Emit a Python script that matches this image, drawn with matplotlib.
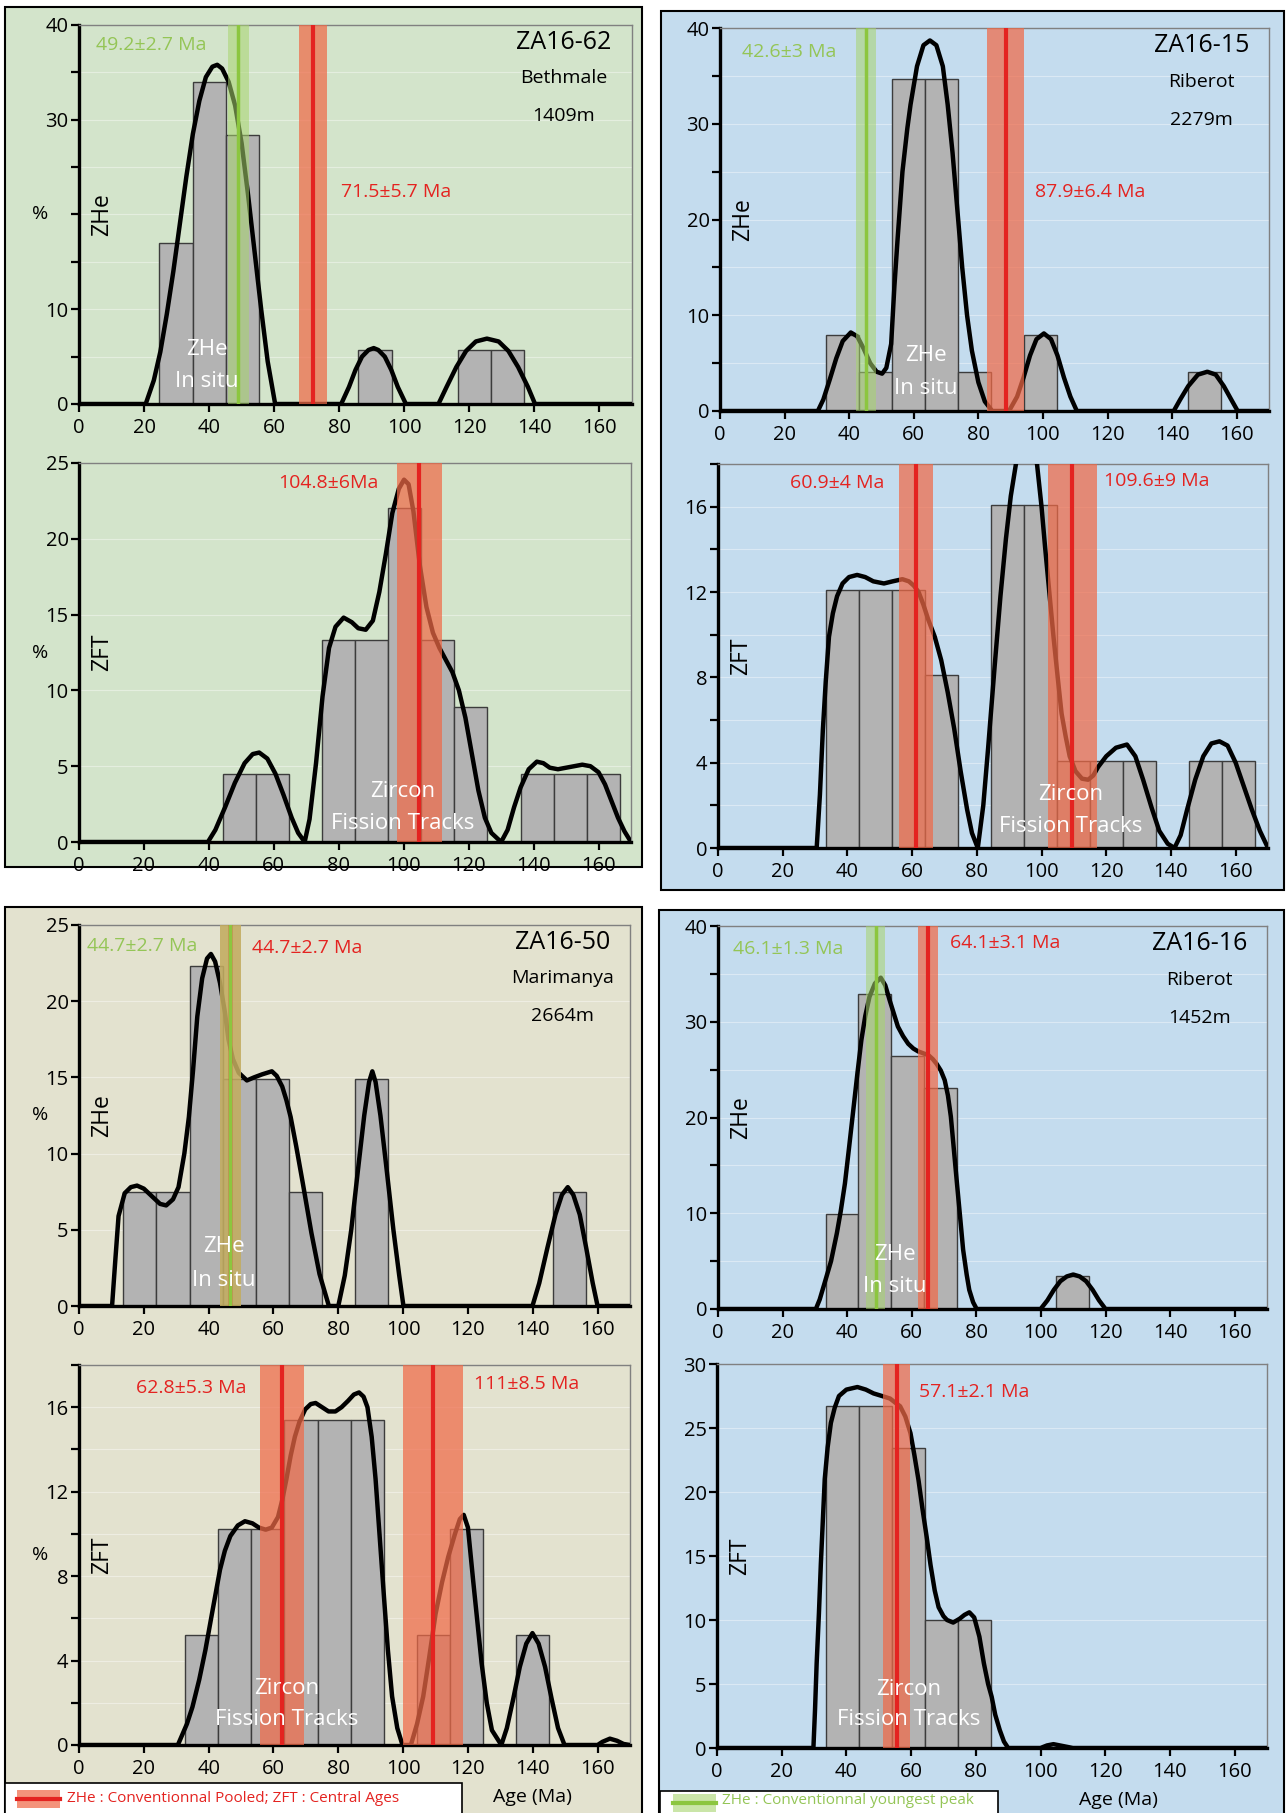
import numpy as np
import matplotlib
matplotlib.use("Agg")
import matplotlib.pyplot as plt
from matplotlib.patches import Rectangle
from matplotlib.lines import Line2D
from matplotlib.ticker import MultipleLocator, FuncFormatter

plt.rcParams['font.family'] = ['Open Sans', 'DejaVu Sans']

W, H = 1288, 1813
BIN_W = 10.2

# ---------------- ZA16-62, Bethmale 1409m ----------------
tl_zhe_start = 24.7
tl_zhe_pct = [17.0, 34.0, 28.4, 0, 0, 0, 5.7, 0, 0, 5.7, 5.7]
tl_zhe_curve = [(0, 0), (20.5, 0), (23, 2.5), (25, 5.5), (27, 9.5), (29, 14), (31, 19), (33, 24),
                (35, 28.5), (37, 32), (39, 34.5), (41, 35.6), (42.5, 35.8), (44, 35.4), (46, 34),
                (48, 31.5), (50, 27.5), (52, 22), (54, 16), (56, 10), (58, 4.5), (60.3, 0),
                (80.6, 0), (83, 1.8), (85, 3.6), (87, 5), (89, 5.7), (90.6, 5.9), (92, 5.7), (94, 5),
                (96, 3.6), (98, 1.8), (100.5, 0), (110.5, 0), (113, 1.8), (116, 3.9), (119, 5.6),
                (122, 6.6), (125.4, 6.9), (129, 6.6), (132, 5.6), (135, 3.9), (138, 1.8), (140.2, 0),
                (170, 0)]
tl_zft_start = 44.2
tl_zft_pct = [4.5, 4.5, 0, 13.3, 13.3, 22.0, 13.3, 8.9, 0, 4.5, 4.5, 4.5]
tl_zft_curve = [(0, 0), (39.7, 0), (42, 0.8), (45, 2.3), (48, 3.9), (51, 5.2), (53.5, 5.8), (55.5, 5.9),
                (58, 5.5), (60.5, 4.5), (63, 3.1), (65.5, 1.6), (67.5, 0.6), (69.5, 0), (71, 1.5),
                (73, 5.2), (75, 9.6), (77, 12.8), (79, 14.2), (81.5, 14.8), (84, 14.5), (86, 14.1),
                (88.3, 14.0), (90.5, 14.6), (92.5, 16.5), (94.5, 19), (96.5, 21.7), (98.5, 23.3),
                (100.1, 23.9), (101.5, 23.6), (103, 21.8), (105, 18.2), (107, 15.5), (109, 13.8),
                (111, 12.8), (113, 12.0), (115, 11.2), (117, 10.0), (119, 8.2), (121, 5.8), (123, 3.4),
                (125, 1.6), (127, 0.6), (130, 0), (132, 0.8), (134, 2.3), (136, 3.6), (138.5, 4.8),
                (141, 5.3), (143, 5.2), (145, 4.9), (147.5, 4.8), (150, 4.9), (152.5, 5.0), (155, 5.1),
                (157.5, 5.0), (160, 4.6), (162, 3.8), (164, 2.7), (166, 1.6), (168, 0.7), (170, 0)]

# ---------------- ZA16-15, Riberot 2279m ----------------
tr_zhe_start = 32.8
tr_zhe_pct = [7.9, 4.1, 34.7, 34.7, 4.1, 0, 7.9, 0, 0, 0, 0, 4.1]
tr_zhe_curve = [(0, 0), (30.3, 0), (32, 1.2), (34, 3.3), (36, 5.5), (38, 7.3), (40.5, 8.2), (42.5, 7.8),
                (44.5, 6.5), (46.5, 5.0), (48.5, 4.1), (50.2, 3.9), (51.5, 4.5), (53, 7), (54, 13),
                (55, 18), (56.5, 25), (58, 29.5), (59, 32), (61, 36), (63, 38.2), (65, 38.7),
                (67, 38.2), (69, 36), (70.5, 32), (72, 27), (73.5, 21), (75, 15), (76.5, 10),
                (78, 6.3), (80, 3), (82, 1), (84.3, 0), (89.5, 0), (92, 1.5), (94, 3.5), (96, 5.8),
                (98, 7.5), (100.3, 8.1), (102.5, 7.5), (104.5, 5.8), (106.5, 3.5), (108.5, 1.5),
                (110.5, 0), (140.5, 0), (142.5, 1.2), (145, 2.6), (148, 3.8), (150.9, 4.1),
                (153.5, 3.8), (156, 2.6), (158.3, 1.2), (160.3, 0), (170, 0)]
tr_zft_start = 33.3
tr_zft_pct = [12.1, 12.1, 12.1, 8.1, 0, 16.1, 16.1, 4.07, 4.07, 4.07, 0, 4.07, 4.07]
tr_zft_curve = [(0, 0), (30.5, 0), (31.5, 2.5), (32.4, 5.5), (33.3, 7.8), (34.3, 9.9), (35.5, 11),
                (36.8, 11.8), (38.5, 12.4), (40.5, 12.7), (43, 12.8), (45.5, 12.7), (48, 12.5),
                (51.3, 12.4), (54, 12.5), (57, 12.6), (59, 12.5), (60.5, 12.3), (62, 12.0), (63.5, 11.4),
                (65, 10.7), (67, 9.9), (69, 8.8), (71, 7.3), (73, 5.6), (75, 3.6), (77, 1.8), (78.5, 0.7),
                (80.3, 0), (82, 2), (83.5, 4.7), (85.5, 8.5), (87.3, 11.8), (89, 14.5), (90.5, 16.5),
                (92.3, 18.2), (94, 19.6), (95.5, 20.0), (97, 19.5), (98.6, 18.0), (100, 16.0),
                (101.1, 14.1), (102.4, 12.0), (103.7, 9.9), (105, 8.0), (106.2, 6.3), (107.5, 5.2),
                (108.7, 4.3), (110.5, 3.6), (112.5, 3.25), (114.4, 3.2), (116, 3.4), (117.5, 3.8),
                (120, 4.3), (123, 4.7), (126.4, 4.85), (129, 4.3), (131.4, 3.2), (134, 1.9),
                (136.4, 0.8), (139, 0.2), (141.1, 0), (143, 0.6), (145, 1.8), (147.5, 3.2), (150, 4.3),
                (152.5, 4.9), (155, 5.0), (157.5, 4.8), (160, 4.0), (162.5, 2.9), (165, 1.8),
                (167.5, 0.8), (170, 0)]

# ---------------- ZA16-50, Marimanya 2664m ----------------
bl_zhe_start = 13.7
bl_zhe_pct = [7.5, 7.5, 22.3, 14.9, 14.9, 7.5, 0, 14.9, 0, 0, 0, 0, 0, 7.5]
bl_zhe_curve = [(0, 0), (10.2, 0), (11.2, 3), (12.2, 5.9), (14.1, 7.4), (16, 7.8), (17.9, 7.9), (20, 7.7),
                (22.5, 7.2), (25, 6.7), (26.9, 6.6), (29, 7.0), (30.7, 7.8), (32.5, 10), (33.9, 12.4),
                (35.2, 15.5), (36.5, 19), (38, 21.5), (39.5, 22.8), (40.7, 23.1), (42, 22.6),
                (43.5, 21.2), (45, 19.3), (46.1, 17.5), (47.5, 16.2), (49.3, 15.3), (51.8, 14.8),
                (54, 15), (56.5, 15.2), (59.5, 15.4), (61, 15.1), (62.7, 14.4), (64, 13.5),
                (65.3, 12.4), (67, 10.5), (69.1, 8.0), (71.7, 4.8), (74.2, 2.1), (77.1, 0), (80, 0),
                (82, 2), (84, 5), (86, 8.8), (88, 12.5), (89.5, 14.7), (90.5, 15.4), (91.5, 14.7),
                (93, 12.5), (95, 8.8), (97, 5), (98.8, 2), (100.1, 0), (139.9, 0), (142, 1.5),
                (144.5, 3.8), (147, 6), (149, 7.3), (150.8, 7.8), (152.5, 7.3), (154.5, 6),
                (156.5, 3.8), (158.5, 1.5), (160, 0), (170, 0)]
bl_zft_start = 32.8
bl_zft_pct = [5.2, 10.25, 10.25, 15.4, 15.4, 15.4, 0, 5.2, 10.25, 0, 5.2]
bl_zft_curve = [(0, 0), (30.5, 0), (33.3, 1.0), (35, 1.8), (37.1, 3.1), (39, 4.5), (41, 6.2), (43.5, 8.3),
                (45, 9.2), (46.7, 9.9), (49, 10.4), (51.2, 10.6), (53.5, 10.5), (55.5, 10.3),
                (57.6, 10.2), (59.5, 10.3), (61.4, 10.8), (62.7, 11.6), (64, 12.6), (65.3, 13.7),
                (66.6, 14.6), (68, 15.3), (69.8, 15.9), (71.5, 16.15), (73, 16.2), (75, 16.0),
                (77, 15.8), (79.1, 15.8), (81, 16.0), (83, 16.3), (84.8, 16.6), (86.4, 16.7),
                (87.8, 16.5), (89, 16.0), (90.3, 14.6), (91.5, 12.6), (92.8, 9.8), (94.1, 7.0),
                (95.3, 4.5), (96.6, 2.3), (98.2, 0.8), (99.8, 0), (102.4, 0), (104.3, 1.0),
                (106.2, 2.3), (108, 4.1), (110, 6.2), (112, 7.7), (113.9, 8.9), (116, 10.0),
                (117.5, 10.7), (118.7, 10.9), (120, 10.3), (121.6, 7.8), (123, 5.7), (124.2, 3.9),
                (125.8, 2.0), (127.4, 0.7), (130.3, 0), (132, 0.8), (134, 2.2), (136, 3.7), (138, 4.8),
                (139.9, 5.3), (141.8, 4.8), (143.8, 3.7), (145.8, 2.2), (147.8, 0.8), (149.8, 0),
                (160, 0), (161.5, 0.15), (163.8, 0.3), (166, 0.2), (168, 0.05), (170, 0)]

# ---------------- ZA16-16, Riberot 1452m ----------------
br_zhe_start = 33.3
br_zhe_pct = [9.9, 32.9, 26.4, 23.1, 0, 0, 0, 3.4]
br_zhe_curve = [(0, 0), (30.3, 0), (31.5, 1.0), (33, 2.7), (35, 5.0), (36.8, 7.9), (38, 10.2), (39.3, 13.1),
                (40.6, 16.9), (41.9, 20.8), (43.2, 24.7), (44.4, 28.1), (45.6, 30.6), (46.9, 32.6),
                (48.6, 34.0), (50.4, 34.6), (51.8, 33.8), (53.2, 32.2), (54.5, 30.8), (55.7, 29.5),
                (57.3, 28.5), (58.9, 27.7), (60.5, 27.2), (62, 26.9), (63.6, 26.7), (65.2, 26.5),
                (66.5, 26.1), (67.7, 25.6), (69, 24.9), (70.2, 23.9), (71.2, 22.3), (72.1, 20.1),
                (73, 16.8), (74, 13.1), (75, 9.5), (75.9, 6.2), (77, 3.6), (77.8, 2.0), (79, 0.7),
                (80.1, 0), (99.9, 0), (102, 0.9), (104, 2.0), (106, 2.9), (108, 3.4), (110, 3.6),
                (112, 3.4), (114, 2.9), (116, 2.0), (118, 0.9), (120, 0), (170, 0)]
br_zft_start = 33.8
br_zft_pct = [26.7, 26.7, 23.4, 10.0, 10.0]
br_zft_curve = [(0, 0), (29.8, 0), (30.3, 3), (30.8, 6.6), (31.5, 10.5), (32.1, 14.4), (33.3, 21),
                (34.2, 23.5), (35.2, 25.4), (36.4, 26.6), (37.7, 27.5), (40, 28.0), (43.4, 28.2),
                (46, 28.0), (48.4, 27.7), (51, 27.5), (53.5, 27.3), (55, 27.0), (56.6, 26.7),
                (58.2, 25.9), (59.8, 24.6), (61, 22.9), (62.3, 20.9), (63.5, 18.7), (64.8, 16.5),
                (66, 14.3), (67.3, 12.3), (68.5, 11.0), (70, 10.3), (71.1, 10.0), (73, 9.8), (75, 10.1),
                (76.5, 10.4), (78, 10.6), (79.5, 10.2), (81.1, 8.7), (82.5, 6.6), (83.8, 5.0),
                (84.9, 4.0), (86, 2.6), (87.4, 1.4), (88.7, 0.5), (90, 0), (100, 0), (102, 0.2),
                (104, 0.3), (106, 0.2), (108, 0.1), (110, 0), (170, 0)]

# ages: (position read on plot, half band width, label)
tl_green = (49.0, 3.2, '49.2±2.7 Ma')
tl_red = (71.9, 4.2, '71.5±5.7 Ma')
tl_zft_red = (104.8, 7.0, '104.8±6Ma')
tr_green = (45.2, 3.0, '42.6±3 Ma')
tr_red = (88.5, 5.7, '87.9±6.4 Ma')
tr_zft_red = [(61.2, 5.2, '60.9±4 Ma'), (109.5, 7.5, '109.6±9 Ma')]
bl_green = (46.7, 3.2, '44.7±2.7 Ma')
bl_red = (46.7, 3.2, '44.7±2.7 Ma')
bl_zft_red = [(62.7, 6.8, '62.8±5.3 Ma'), (109.2, 9.3, '111±8.5 Ma')]
br_green = (48.8, 3.0, '46.1±1.3 Ma')
br_red = (65.1, 3.1, '64.1±3.1 Ma')
br_zft_red = (55.5, 4.3, '57.1±2.1 Ma')

GREEN_BG = '#d3e4cb'
BLUE_BG = '#c4dcee'
BEIGE_BG = '#e3e2cf'
RED = '#e42320'
RED_BAND = '#f06a48'
GREEN = '#8cc63f'
GREEN_BAND = '#a8d46e'
GREEN_TXT = '#94c556'

fig = plt.figure(figsize=(W / 100, H / 100), dpi=100)


def fig_rect(x0, y0, x1, y1, **kw):
    r = Rectangle((x0 / W, 1 - y1 / H), (x1 - x0) / W, (y1 - y0) / H,
                  transform=fig.transFigure, figure=fig, **kw)
    fig.patches.append(r)


def px_axes(x0, y0, x1, y1):
    return fig.add_axes([x0 / W, 1 - y1 / H, (x1 - x0) / W, (y1 - y0) / H])


def draw_hist(ax, start, pct, curve, ytop, major, minor=None, skip=None):
    ax.set_facecolor('none')
    pct = np.asarray(pct, dtype=float)
    left = start + BIN_W * np.arange(len(pct))
    keep = pct > 0
    ax.bar(left[keep], pct[keep], width=BIN_W, align='edge', color='#b3b3b3',
           edgecolor='#3c3c3c', lw=1, zorder=2)
    cx, cy = zip(*curve)
    ax.plot(cx, cy, color='black', lw=3.2, zorder=3, solid_joinstyle='round', solid_capstyle='round')
    ax.set_xlim(0, 170)
    ax.set_ylim(0, ytop)
    ax.xaxis.set_major_locator(MultipleLocator(20))
    ax.yaxis.set_major_locator(MultipleLocator(major))
    if minor:
        ax.yaxis.set_minor_locator(MultipleLocator(minor))
    ax.grid(True, axis='y', which='both', color='white', alpha=0.4, lw=0.8, zorder=1)
    ax.set_axisbelow(True)
    ax.yaxis.set_major_formatter(FuncFormatter(lambda v, p: '' if v == skip else f'{v:g}'))
    for s in ('top', 'right'):
        ax.spines[s].set_color('#808080')
        ax.spines[s].set_linewidth(1.0)
    for s in ('left', 'bottom'):
        ax.spines[s].set_color('black')
        ax.spines[s].set_linewidth(2.4)
    ax.tick_params(axis='x', which='major', direction='out', length=6, width=1.6, labelsize=14.5, pad=4)
    ax.tick_params(axis='y', which='both', direction='out', length=5.5, width=1.6, labelsize=14.5, pad=2)


def band(ax, age, color, bcolor, balpha, lw):
    pos, half, _ = age
    ax.axvspan(pos - half, pos + half, color=bcolor, alpha=balpha, lw=0, zorder=4)
    ax.axvline(pos, color=color, lw=lw, zorder=5)


def red_band(ax, age, lw=3.0):
    band(ax, age, RED, RED_BAND, 0.72, lw)


def green_band(ax, age):
    band(ax, age, GREEN, GREEN_BAND, 0.55, 2.5)


def age_text(ax, x, y, age, color):
    ax.text(x, y, age[2], color=color, fontsize=14, ha='left', va='center', zorder=7)


def side_labels(ax, kind, pct_label):
    ax.text(0.042, 0.5, kind, rotation=90, ha='center', va='center', fontsize=16.5,
            transform=ax.transAxes, zorder=7)
    if pct_label:
        ax.text(-0.07, 0.5, '%', ha='center', va='center', fontsize=14, transform=ax.transAxes)


def sample_labels(ax, name, place, alt):
    ax.text(0.877, 0.955, name, ha='center', va='center', fontsize=18, transform=ax.transAxes, zorder=7)
    ax.text(0.877, 0.86, place, ha='center', va='center', fontsize=14, transform=ax.transAxes, zorder=7)
    ax.text(0.877, 0.76, alt, ha='center', va='center', fontsize=14, transform=ax.transAxes, zorder=7)


def white_text(ax, x, y1, y2, l1, l2):
    ax.text(x, y1, l1, color='white', ha='center', va='center', fontsize=16, zorder=8)
    ax.text(x, y2, l2, color='white', ha='center', va='center', fontsize=16, zorder=8)


# panel boxes
fig_rect(5, 7, 642, 867, facecolor=GREEN_BG, edgecolor='black', lw=1.5, zorder=-1)
fig_rect(661, 11, 1284, 890, facecolor=BLUE_BG, edgecolor='black', lw=1.5, zorder=-1)
fig_rect(5, 907, 642, 1815, facecolor=BEIGE_BG, edgecolor='black', lw=1.5, zorder=-1)
fig_rect(659, 910, 1284, 1815, facecolor=BLUE_BG, edgecolor='black', lw=1.5, zorder=-1)

# ---- top left ----
ax = px_axes(79, 25, 632, 404)
draw_hist(ax, tl_zhe_start, tl_zhe_pct, tl_zhe_curve, 40, 10, 5, skip=20)
green_band(ax, tl_green)
red_band(ax, tl_red)
age_text(ax, 5.2, 37.9, tl_green, GREEN_TXT)
age_text(ax, 80.6, 22.4, tl_red, RED)
side_labels(ax, 'ZHe', True)
sample_labels(ax, 'ZA16-62', 'Bethmale', '1409m')
white_text(ax, 39.4, 5.7, 2.4, 'ZHe', 'In situ')

ax = px_axes(79, 463, 631, 842)
draw_hist(ax, tl_zft_start, tl_zft_pct, tl_zft_curve, 25, 5)
red_band(ax, tl_zft_red)
age_text(ax, 61.4, 23.7, tl_zft_red, RED)
side_labels(ax, 'ZFT', True)
white_text(ax, 99.8, 3.3, 1.25, 'Zircon', 'Fission Tracks')

# ---- top right ----
ax = px_axes(720, 28, 1269, 411)
draw_hist(ax, tr_zhe_start, tr_zhe_pct, tr_zhe_curve, 40, 10, 5)
green_band(ax, tr_green)
red_band(ax, tr_red)
age_text(ax, 6.7, 37.5, tr_green, GREEN_TXT)
age_text(ax, 97.6, 22.9, tr_red, RED)
side_labels(ax, 'ZHe', False)
sample_labels(ax, 'ZA16-15', 'Riberot', '2279m')
white_text(ax, 63.7, 5.8, 2.3, 'ZHe', 'In situ')

ax = px_axes(718, 464, 1268, 848)
draw_hist(ax, tr_zft_start, tr_zft_pct, tr_zft_curve, 18, 4, 2)
for a in tr_zft_red:
    red_band(ax, a)
age_text(ax, 22.3, 17.1, tr_zft_red[0], RED)
age_text(ax, 119.4, 17.2, tr_zft_red[1], RED)
side_labels(ax, 'ZFT', False)
white_text(ax, 109, 2.5, 1.0, 'Zircon', 'Fission Tracks')

# ---- bottom left ----
ax = px_axes(79, 925, 630, 1306)
draw_hist(ax, bl_zhe_start, bl_zhe_pct, bl_zhe_curve, 25, 5)
red_band(ax, bl_red, lw=2.5)
green_band(ax, bl_green)
age_text(ax, 2.6, 23.6, bl_green, GREEN_TXT)
age_text(ax, 53.5, 23.5, bl_red, RED)
side_labels(ax, 'ZHe', True)
sample_labels(ax, 'ZA16-50', 'Marimanya', '2664m')
white_text(ax, 44.8, 3.9, 1.7, 'ZHe', 'In situ')

ax = px_axes(79, 1365, 630, 1745)
draw_hist(ax, bl_zft_start, bl_zft_pct, bl_zft_curve, 18, 4, 2)
for a in bl_zft_red:
    red_band(ax, a)
age_text(ax, 17.7, 16.9, bl_zft_red[0], RED)
age_text(ax, 121.9, 17.1, bl_zft_red[1], RED)
side_labels(ax, 'ZFT', True)
white_text(ax, 64, 2.7, 1.2, 'Zircon', 'Fission Tracks')

# ---- bottom right ----
ax = px_axes(718, 926, 1267, 1309)
draw_hist(ax, br_zhe_start, br_zhe_pct, br_zhe_curve, 40, 10, 5)
green_band(ax, br_green)
red_band(ax, br_red)
age_text(ax, 4.7, 37.6, br_green, GREEN_TXT)
age_text(ax, 71.9, 38.2, br_red, RED)
side_labels(ax, 'ZHe', False)
sample_labels(ax, 'ZA16-16', 'Riberot', '1452m')
white_text(ax, 54.7, 5.7, 2.4, 'ZHe', 'In situ')

ax = px_axes(717, 1364, 1267, 1748)
draw_hist(ax, br_zft_start, br_zft_pct, br_zft_curve, 30, 5)
red_band(ax, br_zft_red)
age_text(ax, 62.3, 27.8, br_zft_red, RED)
side_labels(ax, 'ZFT', False)
white_text(ax, 59.1, 4.6, 2.2, 'Zircon', 'Fission Tracks')

# ---- legends and axis titles ----
fig_rect(5, 1783, 462, 1815, facecolor='white', edgecolor='black', lw=1.2, zorder=5)
fig_rect(17, 1790, 60, 1808, facecolor=RED_BAND, alpha=0.72, lw=0, zorder=6)
fig.lines.append(Line2D([17 / W, 60 / W], [1 - 1799 / H] * 2, color=RED, lw=3,
                        transform=fig.transFigure, zorder=7))
fig.text(67 / W, 1 - 1799 / H, 'ZHe : Conventionnal Pooled; ZFT : Central Ages', color=RED,
         fontsize=11, ha='left', va='center', zorder=7)
fig.text(532 / W, 1 - 1797 / H, 'Age (Ma)', fontsize=14, ha='center', va='center')

fig_rect(660, 1791, 998, 1815, facecolor='white', edgecolor='black', lw=1.2, zorder=5)
fig_rect(673, 1794, 716, 1812, facecolor=GREEN_BAND, alpha=0.6, lw=0, zorder=6)
fig.lines.append(Line2D([673 / W, 716 / W], [1 - 1803 / H] * 2, color=GREEN, lw=3,
                        transform=fig.transFigure, zorder=7))
fig.text(722 / W, 1 - 1801 / H, 'ZHe : Conventionnal youngest peak', color=GREEN_TXT,
         fontsize=11, ha='left', va='center', zorder=7)
fig.text(1118 / W, 1 - 1800 / H, 'Age (Ma)', fontsize=14, ha='center', va='center')

fig.savefig('out.png', dpi=100, facecolor='white')
